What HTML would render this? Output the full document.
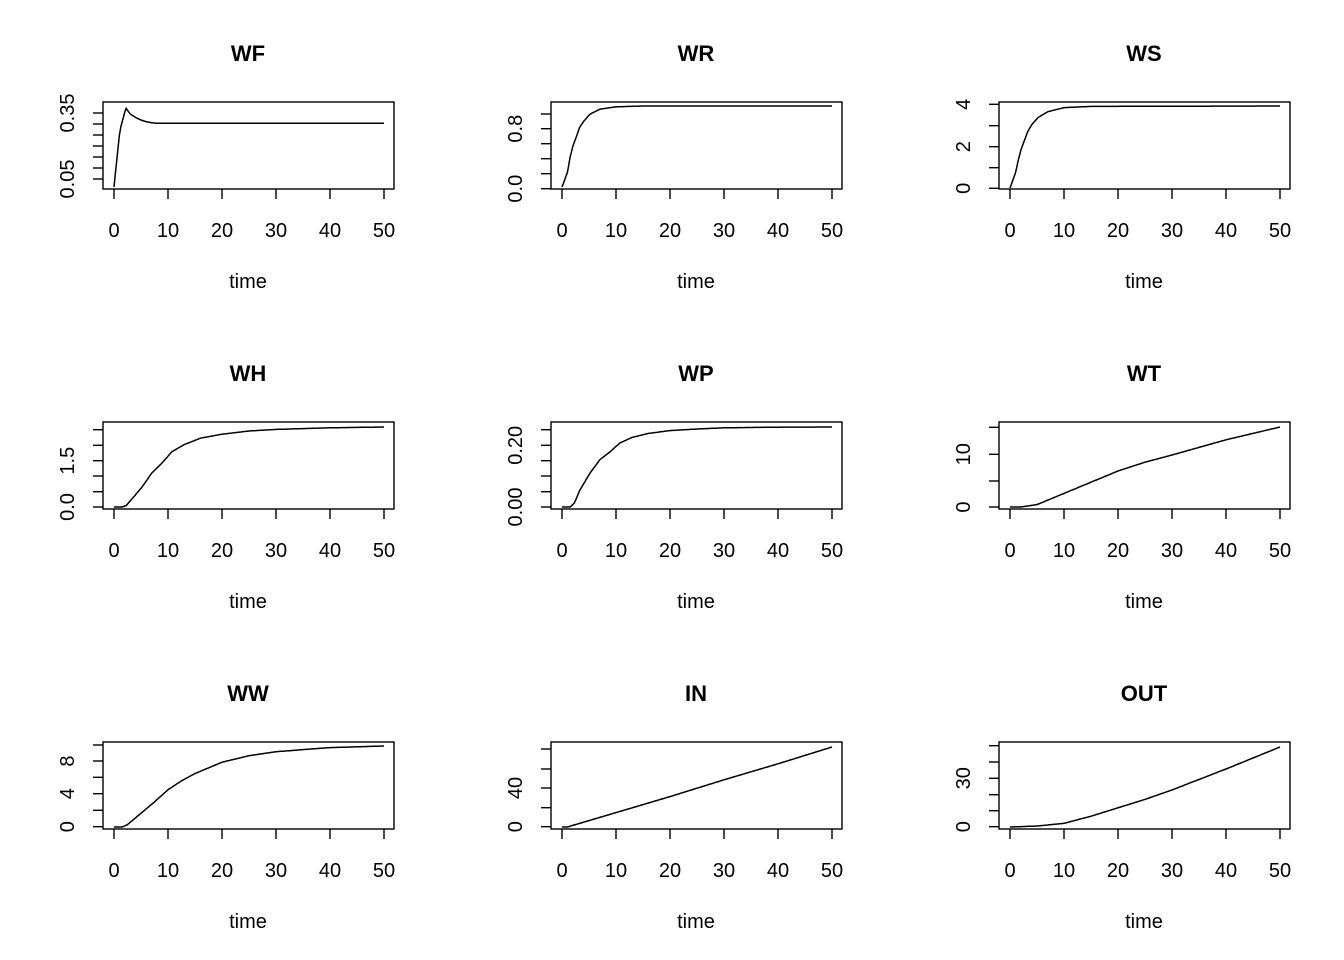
<!DOCTYPE html>
<html><head><meta charset="utf-8"><style>
html,body{margin:0;padding:0;background:#fff;}
svg{display:block;font-family:"Liberation Sans",Arial,sans-serif;}
</style></head><body>
<svg id="s" width="1344" height="960" xmlns="http://www.w3.org/2000/svg"></svg>
<script>
const S=document.getElementById('s');let h='';
function interp(knots,t){for(let i=0;i<knots.length-1;i++){const a=knots[i],b=knots[i+1];if(t>=a[0]&&t<=b[0]){return a[1]+(b[1]-a[1])*(t-a[0])/(b[0]-a[0]);}}return knots[knots.length-1][1];}
const panels=[
 {t:'WF',c:0,r:0,ticks:[[179,'0.05'],[168],[157],[146],[135],[124],[113,'0.35']],knots:null,
  pts:[[0,187],[1.1,130],[2.2,108],[3,114],[4,117.5],[5,120],[6,121.8],[7,122.8],[8,123.3],[50,123.3]]},
 {t:'WR',c:1,r:0,ticks:[[188.7,'0.0'],[173.7],[158.7],[143.7],[128.7,'0.8'],[114]],base:187,top:106,
  knots:[[0,0],[1,.18],[1.5,.37],[2,.5],[3.3,.74],[4,.81],[5.2,.9],[7,.96],[10,.99],[15,1],[50,1]]},
 {t:'WS',c:2,r:0,ticks:[[188.3,'0'],[167.7],[146.7,'2'],[125.7],[104.3,'4']],base:188,top:106,
  knots:[[0,0],[1,.18],[1.5,.33],[2,.46],[3.3,.69],[4,.77],[5.2,.86],[7,.93],[10,.98],[15,.995],[50,1]]},
 {t:'WH',c:0,r:1,ticks:[[507,'0.0'],[491.7],[476],[460.7,'1.5'],[445.3],[429.7]],base:507,top:427,
  knots:[[0,0],[1.5,0],[2.3,.02],[3.3,.1],[5.2,.25],[7,.425],[8.9,.55],[10.7,.69],[13,.78],[16,.86],[20,.91],[25,.95],[30,.97],[40,.99],[50,1]]},
 {t:'WP',c:1,r:1,ticks:[[507,'0.00'],[491.7],[476],[460.7],[445.3,'0.20'],[429.7]],base:507,top:427,
  knots:[[0,0],[1.5,0],[2.3,.05],[3.3,.21],[5.2,.425],[7,.59],[8.9,.69],[10.7,.8],[13,.87],[16,.92],[20,.955],[25,.975],[30,.99],[40,.998],[50,1]]},
 {t:'WT',c:2,r:1,ticks:[[507,'0'],[481],[454.3,'10'],[427.3]],base:507,top:427,
  knots:[[0,0],[2,0],[5,.03],[10,.17],[15,.31],[20,.45],[25,.56],[30,.65],[35,.745],[40,.84],[45,.92],[50,1]]},
 {t:'WW',c:0,r:2,ticks:[[826.7,'0'],[810.3],[793.7,'4'],[777.3],[761,'8'],[745]],base:827,top:746,
  knots:[[0,0],[1.5,0],[2.5,.03],[5,.17],[7.5,.31],[10,.46],[12.5,.57],[15,.66],[20,.8],[25,.88],[30,.93],[40,.98],[50,1]]},
 {t:'IN',c:1,r:2,ticks:[[826.7,'0'],[807.7],[788,'40'],[769],[749]],base:827,top:747,
  knots:[[0,0],[1,0],[5,.08],[10,.18],[20,.38],[30,.59],[40,.79],[50,1]]},
 {t:'OUT',c:2,r:2,ticks:[[826.7,'0'],[810.7],[794.7],[778.3,'30'],[762],[745.7]],base:827,top:747,
  knots:[[0,0],[5,.012],[10,.046],[15,.135],[20,.24],[25,.345],[30,.463],[40,.725],[50,1]]}
];
for(const p of panels){
 const dx=p.c*448, dy=p.r*320;
 const bx=103+dx, by=102+dy, bw=291, bh=87;
 const X=t=>114+dx+t*5.4;
 h+=`<text x="${248+dx}" y="${61+dy}" font-size="22" font-weight="bold" text-anchor="middle">${p.t}</text>`;
 h+=`<rect x="${bx}" y="${by}" width="${bw}" height="${bh}" fill="none" stroke="#000" stroke-width="1.4"/>`;
 for(let v=0;v<=50;v+=10){const x=X(v);h+=`<line x1="${x}" y1="${by+bh}" x2="${x}" y2="${by+bh+10}" stroke="#000" stroke-width="1.4"/>`;
  h+=`<text x="${x}" y="${237+dy}" font-size="20" text-anchor="middle">${v}</text>`;}
 h+=`<text x="${248+dx}" y="${288+dy}" font-size="20" text-anchor="middle">time</text>`;
 for(const tk of p.ticks){h+=`<line x1="${bx-10}" y1="${tk[0]}" x2="${bx}" y2="${tk[0]}" stroke="#000" stroke-width="1.4"/>`;
  if(tk[1]){const lx=74+dx;h+=`<text transform="translate(${lx},${tk[0]}) rotate(-90)" font-size="20" text-anchor="middle">${tk[1]}</text>`;}}
 let pts=[];
 if(p.pts){for(let t=0;t<=50;t+=0.25){pts.push([X(t),interp(p.pts,t)]);}}
 else{for(let t=0;t<=50;t+=0.25){const f=interp(p.knots,t);pts.push([X(t),p.base-(p.base-p.top)*f]);}}
 h+=`<polyline fill="none" stroke="#000" stroke-width="1.5" points="${pts.map(q=>q[0].toFixed(1)+','+q[1].toFixed(1)).join(' ')}"/>`;
}
S.innerHTML=h;
</script>
</body></html>
